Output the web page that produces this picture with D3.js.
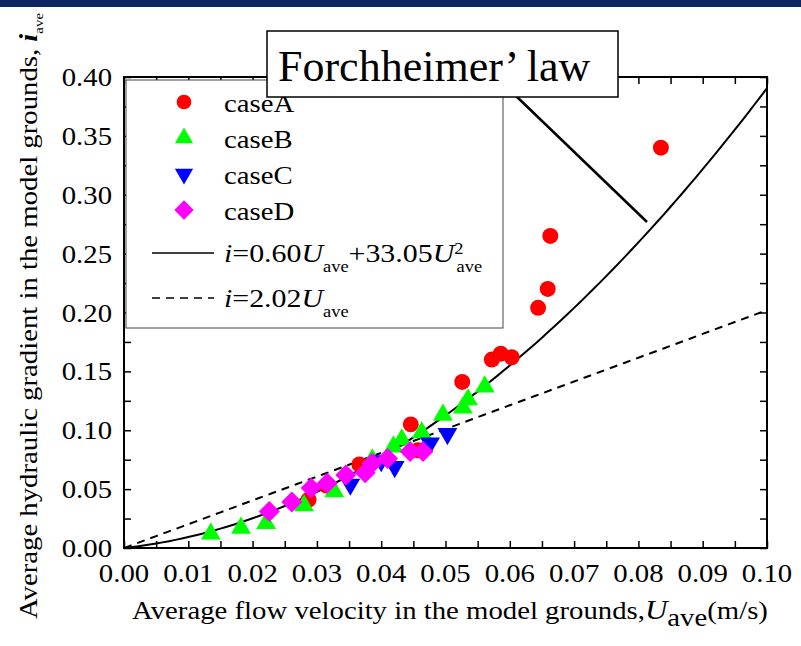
<!DOCTYPE html>
<html>
<head>
    <meta charset='utf-8'>
    <title>Forchheimer law</title>
    <script src='https://d3js.org/d3.v7.min.js'></script>
    <style>
        body { margin: 0; background: #fff; }
        text { font-family: 'Liberation Serif', 'Times New Roman', serif; fill: #000; }
    </style>
</head>
<body>
    <script>
        // measured points [U_ave, i_ave]
        const caseA = [[0.0287, 0.041], [0.0315, 0.053], [0.0366, 0.071], [0.0446, 0.105], [0.0457, 0.083],
            [0.0526, 0.141], [0.0572, 0.160], [0.0586, 0.165], [0.0603, 0.162], [0.0644, 0.204],
            [0.0659, 0.220], [0.0663, 0.265], [0.0835, 0.340]];
        const caseB = [[0.0135, 0.012], [0.0182, 0.017], [0.0221, 0.021], [0.0280, 0.036], [0.0327, 0.048],
            [0.0386, 0.075], [0.0419, 0.086], [0.0432, 0.092], [0.0463, 0.098], [0.0496, 0.113],
            [0.0527, 0.119], [0.0535, 0.126], [0.0561, 0.137]];
        const caseC = [[0.0352, 0.054], [0.0400, 0.074], [0.0421, 0.069], [0.0476, 0.089], [0.0503, 0.097]];
        const caseD = [[0.0226, 0.031], [0.0261, 0.039], [0.0291, 0.051], [0.0316, 0.055], [0.0345, 0.062],
            [0.0375, 0.064], [0.0386, 0.072], [0.0410, 0.076], [0.0445, 0.082], [0.0465, 0.082]];

        // fitted lines: i = a*U + b*U^2
        const forchheimerCoef = [0.60, 33.05];
        const darcyCoef = [2.02, 0];

        const xTicks = [0, 0.01, 0.02, 0.03, 0.04, 0.05, 0.06, 0.07, 0.08, 0.09, 0.10];
        const yTicks = [0, 0.05, 0.10, 0.15, 0.20, 0.25, 0.30, 0.35, 0.40];

        const width = 801, height = 646;
        const m = { left: 124, right: 767, top: 77, bottom: 548 };
        const sx = 1.15; // the original lettering is a bit wider than Liberation Serif

        const svg = d3.select('body')
            .append('svg')
            .attr('width', width)
            .attr('height', height);

        // text helper: place at (px,py), stretched along its own direction
        function label(parent, px, py, size, rot) {
            return parent.append('text')
                .attr('transform', 'translate(' + px + ',' + py + ')' + (rot ? ' rotate(' + rot + ')' : '') + ' scale(' + sx + ',1)')
                .attr('font-size', size + 'px');
        }

        // dark band at the top
        svg.append('rect')
            .attr('x', 0).attr('y', 0)
            .attr('width', width).attr('height', 7)
            .attr('fill', '#0b2660');

        const x = d3.scaleLinear().domain([0, 0.1]).range([m.left, m.right]);
        const y = d3.scaleLinear().domain([0, 0.4]).range([m.bottom, m.top]);

        svg.append('clipPath').attr('id', 'plot')
            .append('rect')
            .attr('x', m.left).attr('y', m.top)
            .attr('width', m.right - m.left).attr('height', m.bottom - m.top);

        // axes, ticks inward on all four sides
        const minorX = d3.range(0, 0.1001, 0.005);
        const minorY = d3.range(0, 0.4001, 0.025);

        svg.append('g')
            .attr('transform', 'translate(0,' + m.bottom + ')')
            .call(d3.axisBottom(x).tickValues(minorX).tickSize(-7).tickFormat(''))
            .call(g => g.select('.domain').remove());
        svg.append('g')
            .attr('transform', 'translate(0,' + m.top + ')')
            .call(d3.axisTop(x).tickValues(minorX).tickSize(-7).tickFormat(''))
            .call(g => g.select('.domain').remove());
        svg.append('g')
            .attr('transform', 'translate(' + m.left + ',0)')
            .call(d3.axisLeft(y).tickValues(minorY).tickSize(-7).tickFormat(''))
            .call(g => g.select('.domain').remove());
        svg.append('g')
            .attr('transform', 'translate(' + m.right + ',0)')
            .call(d3.axisRight(y).tickValues(minorY).tickSize(-7).tickFormat(''))
            .call(g => g.select('.domain').remove());
        svg.selectAll('.tick line').attr('stroke', '#000').attr('stroke-width', 1.5);

        xTicks.forEach(d => {
            label(svg, x(d), 582, 25).attr('text-anchor', 'middle').text(d.toFixed(2));
        });
        yTicks.forEach(d => {
            label(svg, 112, y(d) + 9, 25).attr('text-anchor', 'end').text(d.toFixed(2));
        });

        svg.append('rect')
            .attr('x', m.left).attr('y', m.top)
            .attr('width', m.right - m.left).attr('height', m.bottom - m.top)
            .attr('fill', 'none')
            .attr('stroke', '#000')
            .attr('stroke-width', 2);

        // fitted curves
        const uGrid = d3.range(0, 0.1001, 0.001);
        const line = d3.line().x(d => x(d[0])).y(d => y(d[1]));
        const fit = c => uGrid.map(u => [u, c[0] * u + c[1] * u * u]);

        const plot = svg.append('g').attr('clip-path', 'url(#plot)');
        plot.append('path')
            .attr('d', line(fit(darcyCoef)))
            .attr('fill', 'none').attr('stroke', '#000')
            .attr('stroke-width', 2).attr('stroke-dasharray', '8,6');
        plot.append('path')
            .attr('d', line(fit(forchheimerCoef)))
            .attr('fill', 'none').attr('stroke', '#000')
            .attr('stroke-width', 2);

        // markers
        const series = [
            { name: 'caseA', data: caseA, color: '#ff0000', symbol: d3.symbolCircle, size: 200, rot: 0 },
            { name: 'caseB', data: caseB, color: '#00ff00', symbol: d3.symbolTriangle, size: 170, rot: 0 },
            { name: 'caseC', data: caseC, color: '#0000ff', symbol: d3.symbolTriangle, size: 170, rot: 180 },
            { name: 'caseD', data: caseD, color: '#ff00ff', symbol: d3.symbolSquare, size: 220, rot: 45 }
        ];

        series.forEach(s => {
            plot.selectAll('.m-' + s.name)
                .data(s.data)
                .enter()
                .append('path')
                .attr('d', d3.symbol().type(s.symbol).size(s.size))
                .attr('fill', s.color)
                .attr('transform', d => 'translate(' + x(d[0]) + ',' + y(d[1]) + ') rotate(' + s.rot + ')');
        });

        // legend
        const legend = svg.append('g');
        legend.append('rect')
            .attr('x', 126).attr('y', 80)
            .attr('width', 377).attr('height', 248)
            .attr('fill', '#fff')
            .attr('stroke', '#444')
            .attr('stroke-width', 1);

        series.forEach((s, i) => {
            const ly = 102 + i * 36;
            legend.append('path')
                .attr('d', d3.symbol().type(s.symbol).size(s.size * 0.85))
                .attr('fill', s.color)
                .attr('transform', 'translate(184,' + ly + ') rotate(' + s.rot + ')');
            label(legend, 224, ly + 10, 25).text(s.name);
        });

        legend.append('line')
            .attr('x1', 152).attr('x2', 214)
            .attr('y1', 253).attr('y2', 253)
            .attr('stroke', '#000').attr('stroke-width', 1.5);
        const t1 = label(legend, 224, 262, 26);
        t1.append('tspan').attr('font-style', 'italic').text('i');
        t1.append('tspan').text('=0.60');
        t1.append('tspan').attr('font-style', 'italic').text('U');
        t1.append('tspan').attr('font-size', '16px').attr('dy', 10).text('ave');
        t1.append('tspan').attr('dy', -10).text('+33.05');
        t1.append('tspan').attr('font-style', 'italic').text('U');
        t1.append('tspan').attr('font-size', '16px').attr('dy', -8).text('2');
        t1.append('tspan').attr('font-size', '16px').attr('dx', -6).attr('dy', 18).text('ave');

        legend.append('line')
            .attr('x1', 152).attr('x2', 214)
            .attr('y1', 298).attr('y2', 298)
            .attr('stroke', '#000').attr('stroke-width', 1.5)
            .attr('stroke-dasharray', '8,6');
        const t2 = label(legend, 224, 307, 26);
        t2.append('tspan').attr('font-style', 'italic').text('i');
        t2.append('tspan').text('=2.02');
        t2.append('tspan').attr('font-style', 'italic').text('U');
        t2.append('tspan').attr('font-size', '16px').attr('dy', 10).text('ave');

        // annotation box and pointer
        svg.append('line')
            .attr('x1', 515).attr('y1', 95)
            .attr('x2', 647).attr('y2', 222)
            .attr('stroke', '#000').attr('stroke-width', 2.5);
        svg.append('rect')
            .attr('x', 267).attr('y', 31)
            .attr('width', 351).attr('height', 66)
            .attr('fill', '#fff')
            .attr('stroke', '#000')
            .attr('stroke-width', 1.5);
        svg.append('text')
            .attr('x', 278).attr('y', 81)
            .attr('font-size', '44px')
            .text('Forchheimer\u2019 law');

        // axis titles
        const xt = label(svg, 450, 619, 25).attr('text-anchor', 'middle');
        xt.append('tspan').text('Average flow velocity in the model grounds,');
        xt.append('tspan').attr('font-style', 'italic').attr('font-size', '27px').text('U');
        xt.append('tspan').attr('dy', 7).text('ave');
        xt.append('tspan').attr('dy', -7).text('(m/s)');

        const yt = label(svg, 37, 316, 25, -90).attr('text-anchor', 'middle');
        yt.append('tspan').text('Average hydraulic gradient in the model grounds, ');
        yt.append('tspan').attr('font-style', 'italic').attr('font-weight', 'bold').text('i');
        yt.append('tspan').attr('font-size', '13px').attr('dy', 6).text('ave');
    </script>
</body>
</html>
